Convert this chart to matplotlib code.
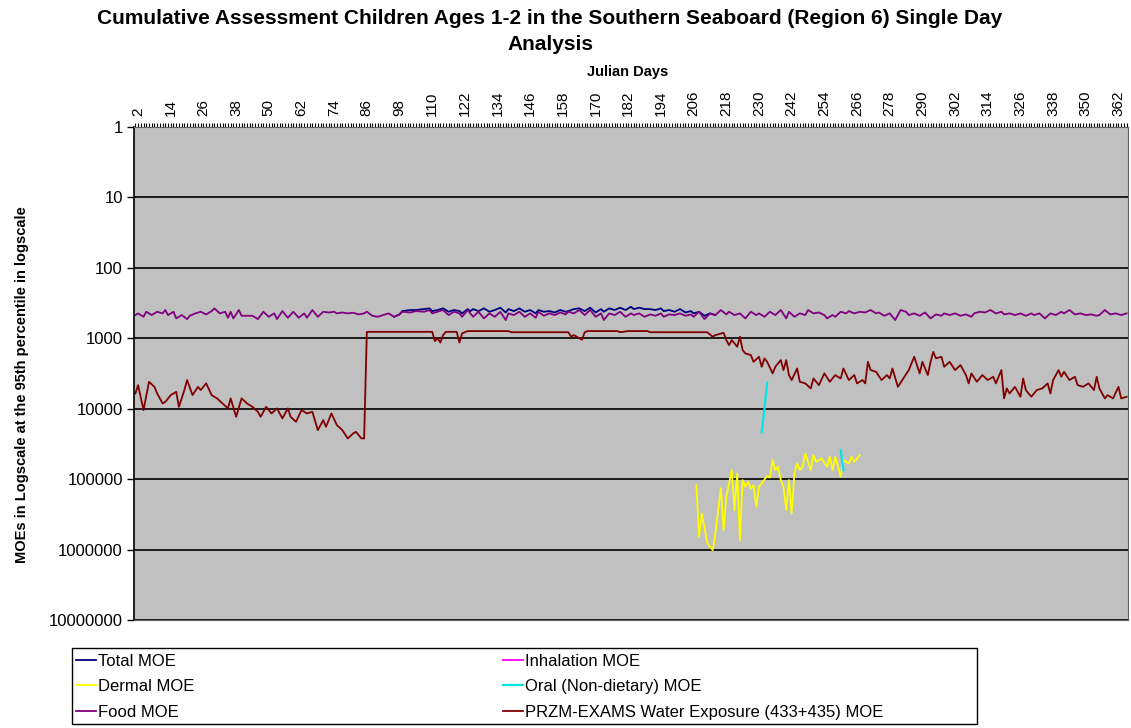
import numpy as np
import matplotlib
matplotlib.use('Agg')
import matplotlib.pyplot as plt
from matplotlib.patches import Rectangle
from matplotlib.ticker import NullLocator

plt.rcParams['font.family'] = ['Liberation Sans', 'DejaVu Sans']

# ---------------- data (MOE values) ----------------
series_names = ['Total MOE', 'Inhalation MOE', 'Dermal MOE',
                'Oral (Non-dietary) MOE', 'Food MOE',
                'PRZM-EXAMS Water Exposure (433+435) MOE']

label_days = list(range(2, 366, 12))
y_ticks = [1, 10, 100, 1000, 10000, 100000, 1000000, 10000000]

food_days = [1, 2, 4, 5, 7, 9, 11, 12, 13, 15, 16, 18, 20, 21, 23, 25, 27, 29, 30, 32,
             34, 35, 36, 37, 39, 40, 42, 44, 46, 48, 50, 52, 53, 55, 57, 59, 61, 63, 64, 66,
             68, 70, 72, 74, 75, 77, 79, 81, 83, 85, 86, 88, 90, 92, 94, 96, 98, 99, 102, 104,
             107, 109, 110, 112, 114, 116, 118, 120, 121, 123,
             124, 125, 127, 129, 131, 133, 135, 137, 138, 140, 142, 144, 146, 148, 149, 151,
             153, 155, 157, 159, 160, 162, 164, 166, 168, 170, 172, 173, 175, 177, 179, 181,
             183, 184, 186, 188, 190, 192, 194, 195, 197, 199, 201, 203, 205, 206, 208, 210,
             212, 214, 216, 218, 219, 221, 223, 225, 227, 229, 230, 232, 234, 236, 238, 240,
             241, 243, 245, 247,
             248, 250, 252, 254, 255, 257, 258, 260, 262, 263, 265, 267, 269, 271, 273, 274,
             276, 278, 280, 282, 284, 285, 287, 289, 291, 293, 295, 297, 298, 300, 302, 304,
             306, 308, 309, 311, 313, 315, 317, 319, 320, 322, 324, 326, 328, 330, 331, 333,
             335, 337, 339, 341, 342, 344, 346, 348, 350, 352, 354, 355, 357, 359, 361, 363, 365]
food_moe = [468, 443, 495, 420, 468, 420, 443, 397, 468, 420, 522, 468, 534, 479, 443, 420, 458, 411, 376, 443,
            420, 511, 420, 522, 397, 479, 479, 479, 534, 420, 495, 443, 534, 411, 511, 420, 511, 443, 511, 397,
            495, 420, 430, 420, 443, 430, 443, 434, 458, 443, 420, 479, 495, 468, 443, 495, 458, 420, 430, 411,
            420, 397, 443, 420, 397, 468, 420, 443, 495, 397,
            443, 495, 420, 522, 443, 495, 420, 551, 443, 468, 420, 495, 443, 511, 420, 479,
            443, 468, 430, 458, 420, 443, 397, 468, 397, 495, 443, 551, 443, 468, 420, 495,
            443, 468, 443, 495, 458, 479, 443, 495, 458, 468, 443, 479, 458, 495, 420, 534,
            443, 468, 397, 458, 420, 468, 443, 522, 420, 468, 443, 495, 420, 468, 397, 522,
            420, 495, 443, 468,
            397, 443, 430, 468, 522, 468, 495, 420, 443, 411, 443, 420, 430, 397, 443, 430,
            479, 443, 551, 397, 420, 468, 443, 479, 430, 522, 458, 479, 443, 468, 443, 479,
            458, 495, 443, 420, 430, 397, 443, 420, 458, 443, 468, 443, 479, 443, 468, 443,
            522, 443, 468, 420, 443, 397, 458, 443, 468, 458, 479, 468, 397, 458, 443, 468, 443]

# total is hidden under the food line except in the middle of the year
total_days = [96, 98, 99, 102, 104, 107, 109, 110, 112, 114, 116, 118, 120, 121, 123,
              124, 125, 127, 129, 131, 133, 135, 137, 138, 140, 142, 144, 146, 148, 149, 151,
              153, 155, 157, 159, 160, 162, 164, 166, 168, 170, 172, 173, 175, 177, 179, 181,
              183, 184, 186, 188, 190, 192, 194, 195, 197, 199, 201, 203, 205, 206, 208, 210,
              212, 214]
total_moe = [495, 458, 411, 397, 397, 385, 376, 411, 397, 376, 420, 397, 411, 443, 385,
             411, 385, 411, 376, 420, 397, 368, 430, 385, 411, 376, 420, 397, 443, 397, 420,
             411, 430, 397, 420, 411, 385, 376, 411, 368, 430, 385, 420, 376, 397, 368, 397,
             357, 385, 368, 385, 385, 397, 376, 411, 397, 420, 385, 430, 411, 443, 420, 479,
             443, 468]

inhalation_days = []   # off the chart, legend entry only
inhalation_moe = []

dermal_days = [207, 208, 209, 211, 213, 214, 216, 217, 218, 220, 221, 222, 223, 224, 225, 226,
               227, 228, 229, 230, 233, 234, 235, 236, 237, 238, 239, 240, 241, 242, 243, 244,
               245, 246, 247, 249, 250, 251, 253, 255, 256, 257, 258, 260, 261, 263, 264, 265, 267]
dermal_moe = [121700, 661000, 307000, 800000, 1020000, 585000, 134000, 530000, 178000, 74500,
              275000, 83000, 735000, 103000, 128500, 109000, 136000, 121700, 247000, 128500,
              90000, 95000, 53700, 74500, 66900, 103000, 128500, 275000, 103000, 307000,
              83000, 59800, 74500, 66900, 43100, 74500, 45600, 56800, 50800, 66900,
              48200, 74500, 48200, 92700, 53700, 59800, 48200, 56800, 45600]

oral_days = [231, 232, 233, 259, 260, 261]
oral_moe = [21500, 10000, 4300, np.nan, 38700, 74500]

water_days = [1, 2, 4, 6, 8, 9, 11, 12, 14, 16, 17, 19, 20, 22, 24, 25, 27, 29, 31, 33,
              35, 36, 38, 40, 42, 44, 46, 47, 49, 51, 53, 55, 57, 58, 60, 62, 64, 66, 68, 70,
              71, 73, 75, 77, 79, 81, 82, 84, 85,
              86, 110, 111, 112, 113, 114, 115, 119, 120, 121, 123, 138, 139, 160, 161, 162,
              164, 165, 166, 167, 178, 179, 182, 189, 190, 211,
              213, 214, 217, 218, 219, 220, 222, 223, 224, 225, 227, 228, 230, 231, 232, 233,
              235, 236, 238, 239, 240, 241, 242, 244, 245, 247, 249, 250, 252, 254, 256, 258,
              260, 261, 263, 265, 266, 268, 269, 270, 271, 273, 275, 277, 278, 279, 281, 283,
              285, 287, 288, 289, 290, 292, 293, 294, 295, 297, 298, 300, 302, 304, 306, 307,
              308, 310, 312, 314, 316, 317, 319, 320, 321, 322, 324, 326, 327, 328, 330, 332,
              334, 336, 337, 338, 340, 341, 342, 344, 346, 347, 349, 351, 353, 354, 355, 357,
              358, 360, 362, 363, 365]
water_moe = [6070, 4620, 10470, 4150, 4890, 6070, 8410, 7980, 6410, 5750, 9400, 5440, 3920, 6410, 4890, 5440, 4370, 6410, 7140, 8410,
             9900, 7140, 13030, 7140, 8410, 9400, 11070, 13030, 9400, 11670, 9900, 13740, 9900, 13030, 15350, 10470, 11670, 11070, 20140, 14520,
             18070, 11670, 17100, 20140, 26420, 22440, 21290, 26420, 26420,
             810, 810, 1100, 1000, 1150, 900, 810, 810, 1150, 850, 790, 790, 820, 820, 950, 900,
             1000, 1050, 820, 790, 790, 820, 790, 790, 820, 820,
             951, 901, 836, 1060, 1250, 1060, 1320, 951, 1470, 1640, 1730, 2160, 1830, 2540, 1930, 2160,
             3150, 2540, 2040, 2830, 2040, 3330, 3920, 2680, 4150, 4370, 5150, 3720, 4620, 3150, 4150, 3330,
             3720, 2680, 3920, 3330, 4370, 3920, 4370, 2160, 2830, 2990, 3920, 3330, 3720, 2680, 4890, 3720,
             2830, 1830, 2400, 3150, 2160, 3330, 2160, 1560, 1930, 1830, 2540, 2160, 2830, 2400, 3330, 4370,
             3150, 4150, 3330, 3920, 3520, 4370, 2830, 7140, 5150, 6070, 4890, 6760, 3720, 5440, 6760, 5440,
             5150, 4370, 6070, 3920, 2830, 3520, 2990, 3920, 3520, 4620, 4890, 4370, 5440, 3520, 5150, 7140,
             6410, 7140, 4890, 7140, 6760]

colors = {'Total MOE': '#000080', 'Inhalation MOE': '#ff00ff', 'Dermal MOE': '#ffff00',
          'Oral (Non-dietary) MOE': '#00e5e5', 'Food MOE': '#800080',
          'PRZM-EXAMS Water Exposure (433+435) MOE': '#800000'}

# ---------------- figure ----------------
W, H = 1131, 728
fig = plt.figure(figsize=(W / 100, H / 100), dpi=100)
ax = fig.add_axes([134 / W, 1 - 620 / H, (1128 - 134) / W, (620 - 127) / H])
ax.set_facecolor('#c0c0c0')

lw = 1.3
ax.plot(total_days, total_moe, color=colors['Total MOE'], lw=lw, label='Total MOE')
ax.plot(inhalation_days, inhalation_moe, color=colors['Inhalation MOE'], lw=lw, label='Inhalation MOE')
ax.plot(dermal_days, dermal_moe, color=colors['Dermal MOE'], lw=lw, label='Dermal MOE')
ax.plot(oral_days, oral_moe, color=colors['Oral (Non-dietary) MOE'], lw=lw + 0.3,
        label='Oral (Non-dietary) MOE')
ax.plot(food_days, food_moe, color=colors['Food MOE'], lw=lw, label='Food MOE')
ax.plot(water_days, water_moe, color=colors['PRZM-EXAMS Water Exposure (433+435) MOE'], lw=lw,
        label='PRZM-EXAMS Water Exposure (433+435) MOE')

ax.set_yscale('log')
ax.set_ylim(1e7, 1)
ax.set_xlim(0.5, 365.5)

ax.set_yticks(y_ticks)
ax.set_yticklabels([str(v) for v in y_ticks], fontsize=12)
ax.yaxis.set_minor_locator(NullLocator())
ax.yaxis.grid(True, which='major', color='black', lw=1.2)
ax.tick_params(axis='y', direction='out', length=5, width=1, pad=3)

ax.xaxis.tick_top()
ax.set_xticks(label_days)
ax.set_xticklabels([str(d) for d in label_days], rotation=90, fontsize=11)
ax.set_xticks(np.arange(1, 366), minor=True)
ax.tick_params(axis='x', which='both', direction='out', length=3, width=0.8, pad=5)

for side in ['top', 'right', 'bottom']:
    ax.spines[side].set_color('#606060')
ax.spines['left'].set_color('black')
ax.spines['left'].set_linewidth(1.2)

fig.text(550 / W, 1 - 18 / H, 'Cumulative Assessment Children Ages 1-2 in the Southern Seaboard (Region 6) Single Day',
         ha='center', va='center', fontsize=15, fontweight='bold')
fig.text(550 / W, 1 - 45 / H, 'Analysis', ha='center', va='center', fontsize=15, fontweight='bold')
fig.text(628 / W, 1 - 72 / H, 'Julian Days', ha='center', va='center', fontsize=10.5, fontweight='bold')
fig.text(22 / W, 1 - 385 / H, 'MOEs in Logscale at the 95th percentile in logscale',
         ha='center', va='center', rotation=90, fontsize=10.5, fontweight='bold')

# legend with a wide box like the original
handles, labels = ax.get_legend_handles_labels()
order = [0, 2, 4, 1, 3, 5]
fig.legend([handles[i] for i in order], [labels[i] for i in order], ncol=2,
           loc='upper left', bbox_to_anchor=(74 / W, 1 - 652 / H), frameon=False,
           fontsize=12, handlelength=1.2, handletextpad=0.15, columnspacing=18.5,
           labelspacing=0.63, borderaxespad=0, borderpad=0.1)
fig.add_artist(Rectangle((72 / W, 1 - 724 / H), (977 - 72) / W, (724 - 648) / H,
                         transform=fig.transFigure, fill=False, ec='black', lw=1))

fig.savefig('out.png', dpi=100)
